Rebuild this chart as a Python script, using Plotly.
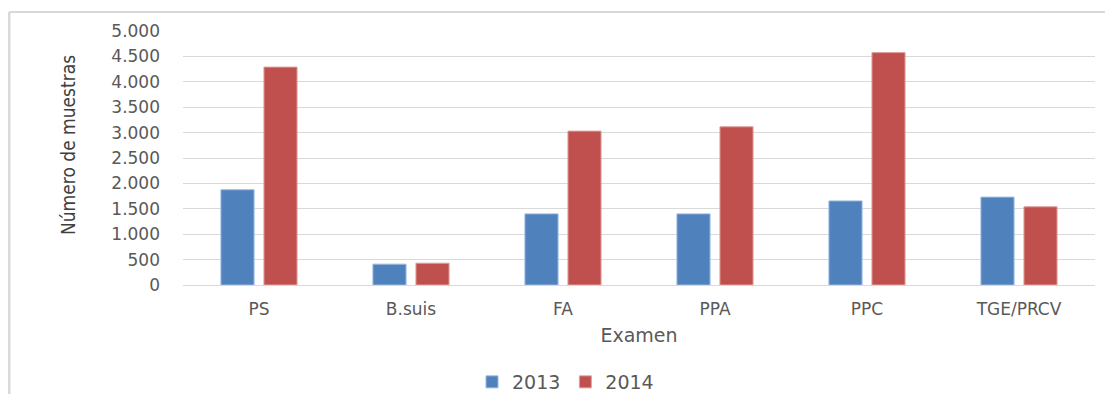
import plotly.graph_objects as go

categories = ["PS", "B.suis", "FA", "PPA", "PPC", "TGE/PRCV"]
values_2013 = [1875, 410, 1400, 1400, 1655, 1730]
values_2014 = [4290, 430, 3030, 3115, 4575, 1540]
y_ticks = [0, 500, 1000, 1500, 2000, 2500, 3000, 3500, 4000, 4500, 5000]
y_tick_text = ["0", "500", "1.000", "1.500", "2.000", "2.500", "3.000", "3.500", "4.000", "4.500", "5.000"]
y_title = "Número de muestras"
x_title = "Examen"

OFF = 8  # page body margin
W, H = 1097, 386
L, R, T, B = 175, 10, 23, 109
pw, ph = W - L - R, H - T - B

def px_x(p):
    return (p - OFF - L) / pw

def px_y(p):
    return (H - B - (p - OFF)) / ph

fig = go.Figure()
fig.add_trace(go.Bar(name="2013", x=categories, y=values_2013,
                     marker=dict(color="#4F81BD", line=dict(color="#9DB9DE", width=1))))
fig.add_trace(go.Bar(name="2014", x=categories, y=values_2014,
                     marker=dict(color="#C0504D", line=dict(color="#E0A09E", width=1))))

font_main = "DejaVu Sans"
fig.update_layout(
    width=W, height=H,
    margin=dict(l=L, r=R, t=T, b=B, autoexpand=False),
    paper_bgcolor="white", plot_bgcolor="white",
    barmode="group", bargap=0.434, bargroupgap=0.23,
    font=dict(family=font_main, color="#595959", size=17),
    xaxis=dict(
        showgrid=False, showline=True, linecolor="#D9D9D9", linewidth=1,
        ticks="", tickfont=dict(size=17, color="#595959"),
        ticklabelstandoff=9,
        title=dict(text=x_title, font=dict(size=19, color="#595959"), standoff=10),
    ),
    yaxis=dict(
        range=[0, 5000], tickvals=y_ticks, ticktext=y_tick_text,
        showgrid=True, gridcolor="#D9D9D9", gridwidth=1,
        zeroline=False, showline=False, ticks="",
        tickfont=dict(size=17, color="#595959"),
        ticklabelstandoff=22,
    ),
    annotations=[
        dict(text=y_title, textangle=-90, xref="paper", yref="paper",
             x=px_x(68), y=px_y(145), xanchor="center", yanchor="middle",
             showarrow=False,
             font=dict(family="DejaVu Sans Condensed", size=19, color="#404040")),
    ],
    legend=dict(orientation="h", x=px_x(472), y=px_y(382), xanchor="left", yanchor="middle",
                font=dict(size=19, color="#595959"), traceorder="normal",
                itemwidth=30, bgcolor="rgba(0,0,0,0)"),
    shapes=[
        dict(type="line", xref="paper", yref="paper", x0=px_x(9), x1=px_x(9),
             y0=px_y(12), y1=px_y(420), line=dict(color="#D9D9D9", width=3)),
        dict(type="line", xref="paper", yref="paper", x0=px_x(9), x1=px_x(1130),
             y0=px_y(12), y1=px_y(12), line=dict(color="#D9D9D9", width=2)),
    ],
)

fig.write_html("out.html")
